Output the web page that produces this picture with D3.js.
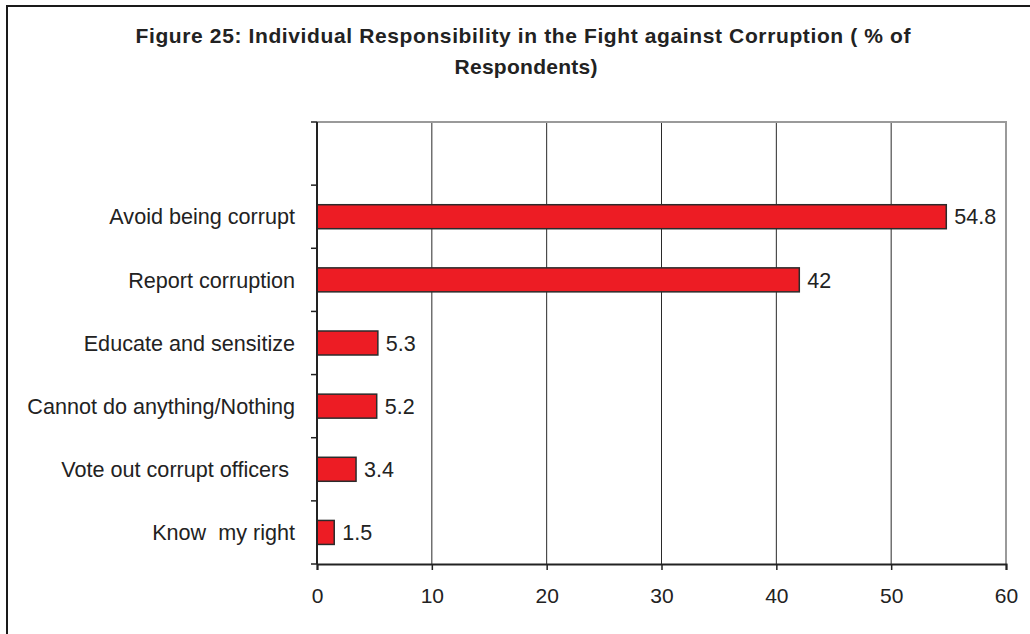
<!DOCTYPE html>
<html>
<head>
<meta charset="utf-8">
<script src="https://cdn.jsdelivr.net/npm/d3@7"></script>
<style>
  html, body { margin: 0; padding: 0; background: #fff; }
  svg { display: block; font-family: "Liberation Sans", Arial, sans-serif; }
</style>
</head>
<body>
<svg id="chart" width="1030" height="634"></svg>
<script>
// Survey answers, top to bottom (first slot is left empty, as in the source figure)
const categories = [
  "",
  "Avoid being corrupt",
  "Report corruption",
  "Educate and sensitize",
  "Cannot do anything/Nothing",
  "Vote out corrupt officers ",
  "Know  my right"
];
const values = [null, 54.8, 42, 5.3, 5.2, 3.4, 1.5];
const xTicks = [0, 10, 20, 30, 40, 50, 60];
const titleLines = [
  "Figure 25: Individual Responsibility in the Fight against Corruption ( % of",
  "Respondents)"
];

const svg = d3.select("#chart");
const plot = { left: 317, right: 1006, top: 122, bottom: 564 };
const ink = "#222";

// Outer frame (continues past the page edge on the right and bottom)
svg.append("rect")
  .attr("x", 7).attr("y", 6)
  .attr("width", 1100).attr("height", 700)
  .attr("fill", "none").attr("stroke", "#1a1a1a").attr("stroke-width", 2);

// Title
svg.append("g").selectAll("text")
  .data(titleLines)
  .join("text")
  .attr("x", (d, i) => i === 0 ? 523 : 526)
  .attr("y", (d, i) => 43 + i * 31)
  .attr("text-anchor", "middle")
  .attr("font-size", 21)
  .attr("font-weight", "bold")
  .attr("fill", ink)
  .attr("textLength", (d, i) => i === 0 ? 775 : 143)
  .attr("lengthAdjust", "spacing")
  .text(d => d);

const x = d3.scaleLinear().domain([0, 60]).range([plot.left, plot.right]);
const y = d3.scaleBand()
  .domain(categories.map((c, i) => i))
  .range([plot.top, plot.bottom])
  .paddingInner(0.62)
  .paddingOuter(0.31);

// Vertical gridlines
svg.append("g").selectAll("line")
  .data(xTicks.filter(t => t > 0 && t < 60))
  .join("line")
  .attr("x1", d => x(d)).attr("x2", d => x(d))
  .attr("y1", plot.top).attr("y2", plot.bottom)
  .attr("stroke", "#2a2a2a").attr("stroke-width", 1);

// Plot frame: top and right edges in grey
svg.append("path")
  .attr("d", `M${plot.left},${plot.top}H${plot.right}V${plot.bottom}`)
  .attr("fill", "none").attr("stroke", "#9a9a9a").attr("stroke-width", 2);

// Bars
const rows = categories.map((c, i) => ({ i, c, v: values[i] })).filter(d => d.v != null);
svg.append("g").selectAll("rect")
  .data(rows)
  .join("rect")
  .attr("x", x(0))
  .attr("y", d => y(d.i))
  .attr("width", d => x(d.v) - x(0))
  .attr("height", y.bandwidth())
  .attr("fill", "#ED1C24")
  .attr("stroke", "#2b2b2b")
  .attr("stroke-width", 1.5);

// Value labels
svg.append("g").selectAll("text")
  .data(rows)
  .join("text")
  .attr("x", d => x(d.v) + 8)
  .attr("y", d => y(d.i) + y.bandwidth() / 2)
  .attr("dy", "0.36em")
  .attr("font-size", 21.5)
  .attr("fill", ink)
  .text(d => d.v);

// Category axis: ticks at slot boundaries, labels centred in slots
const step = y.step();
const bounds = d3.range(categories.length + 1).map(k => plot.top + k * step);
const gy = svg.append("g");
gy.selectAll("line.tick")
  .data(bounds)
  .join("line")
  .attr("class", "tick")
  .attr("x1", plot.left - 6).attr("x2", plot.left)
  .attr("y1", d => d).attr("y2", d => d)
  .attr("stroke", ink).attr("stroke-width", 1.5);
gy.append("line")
  .attr("x1", plot.left).attr("x2", plot.left)
  .attr("y1", plot.top).attr("y2", plot.bottom)
  .attr("stroke", ink).attr("stroke-width", 2);
gy.selectAll("text")
  .data(rows)
  .join("text")
  .attr("x", 295)
  .attr("y", d => y(d.i) + y.bandwidth() / 2)
  .attr("dy", "0.36em")
  .attr("text-anchor", "end")
  .attr("font-size", 21.6)
  .attr("fill", ink)
  .style("white-space", "pre")
  .text(d => d.c);

// Value axis
const xAxis = d3.axisBottom(x).tickValues(xTicks).tickSize(6).tickPadding(18);
const gx = svg.append("g")
  .attr("transform", `translate(0,${plot.bottom})`)
  .call(xAxis);
gx.select(".domain").attr("stroke", ink).attr("stroke-width", 2);
gx.selectAll(".tick line").attr("stroke", ink).attr("stroke-width", 1.5);
gx.selectAll(".tick text")
  .attr("font-size", 21)
  .attr("font-family", "Liberation Sans, Arial, sans-serif")
  .attr("fill", ink);
</script>
</body>
</html>
